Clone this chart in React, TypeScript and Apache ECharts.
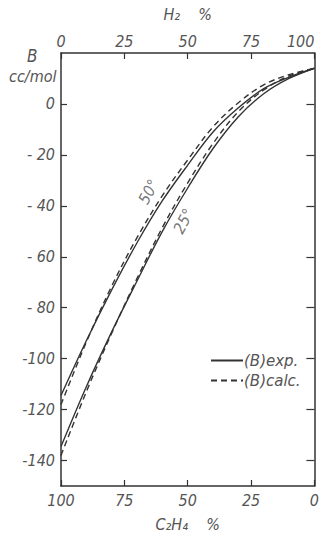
import React, { useEffect, useRef } from "react";
import * as echarts from "echarts";

// H2 mole percent (top axis); C2H4 % = 100 - H2 %
const h2Percent = [0, 10, 20, 30, 40, 50, 60, 70, 80, 90, 100];
// Second virial coefficient B (cc/mol)
const exp50 = [-114.5, -93, -73, -54.5, -38, -24, -11, -1.5, 6, 10.5, 14];
const calc50 = [-118, -93.5, -71.5, -52.5, -36, -22, -9, 0.5, 7.5, 11.5, 14];
const exp25 = [-134.5, -111, -89.5, -69.5, -50, -33, -17.5, -5, 4, 10, 14];
const calc25 = [-138, -113, -90, -68.5, -48.5, -31, -15.5, -3, 5.5, 11, 14];

const xTicks = [0, 25, 50, 75, 100];
const yTicks = [0, -20, -40, -60, -80, -100, -120, -140];
const legendNames = ["(B)exp.", "(B)calc."];

const FONT = "'DejaVu Sans Condensed', 'DejaVu Sans', sans-serif";
const INK = "#333";
const TXT = "#555";

function pairs(ys: number[]) {
  return h2Percent.map((x, i) => [x, ys[i]]);
}

export default function App() {
  const ref = useRef<HTMLDivElement>(null);
  useEffect(() => {
    if (!ref.current) return;
    const chart = echarts.init(ref.current, null, { renderer: "svg" });
    const txt = { color: TXT, fontFamily: FONT, fontStyle: "italic" as const, fontSize: 16 };
    const yFmt = (v: number) => (v === 0 ? "0" : v > -100 ? "- " + Math.abs(v) : "-" + Math.abs(v));
    const lineSeries = (name: string, ys: number[], dashed: boolean) => ({
      type: "line",
      name,
      xAxisIndex: 0,
      yAxisIndex: 0,
      data: pairs(ys),
      symbol: "none",
      smooth: 0.35,
      lineStyle: { color: INK, width: 1.4, type: dashed ? [6, 4] : "solid" },
      itemStyle: { color: INK },
      silent: true,
    });
    const xAxisBase = {
      type: "value",
      min: 0,
      max: 100,
      interval: xTicks[1] - xTicks[0],
      nameLocation: "middle",
      nameTextStyle: { ...txt, fontSize: 16 },
      axisLine: { show: true, onZero: false, lineStyle: { color: INK, width: 1.5 } },
      axisTick: { show: true, inside: true, length: 6, lineStyle: { color: INK, width: 1.2 } },
      splitLine: { show: false },
    };
    chart.setOption({
      animation: false,
      backgroundColor: "#fff",
      grid: { left: 61, right: 6, top: 53, bottom: 51, containLabel: false },
      legend: {
        data: legendNames,
        orient: "vertical",
        left: 205,
        top: 348,
        itemWidth: 32,
        itemHeight: 10,
        itemGap: 5,
        itemStyle: { color: "rgba(0,0,0,0)", borderColor: "rgba(0,0,0,0)", opacity: 0 },
        textStyle: { ...txt, fontFamily: "'DejaVu Sans', sans-serif", fontSize: 15, padding: [0, 0, 0, -4] },
        selectedMode: false,
      },
      xAxis: [
        {
          ...xAxisBase,
          position: "top",
          name: "H₂    %",
          nameGap: 31,
          axisLabel: { ...txt, margin: 4, alignMaxLabel: "right" },
        },
        {
          ...xAxisBase,
          position: "bottom",
          inverse: true,
          name: "C₂H₄    %",
          nameGap: 30,
          axisLabel: { ...txt, margin: 6 },
        },
      ],
      yAxis: [
        {
          type: "value",
          position: "left",
          min: -150,
          max: 20,
          interval: 10,
          axisLine: { show: true, onZero: false, lineStyle: { color: INK, width: 1.5 } },
          axisTick: { show: true, inside: true, length: 6, customValues: yTicks, lineStyle: { color: INK, width: 1.2 } },
          axisLabel: { ...txt, margin: 6, customValues: yTicks, formatter: yFmt },
          splitLine: { show: false },
        },
        {
          type: "value",
          position: "right",
          min: -150,
          max: 20,
          interval: 10,
          axisLine: { show: true, onZero: false, lineStyle: { color: INK, width: 1.5 } },
          axisTick: { show: true, inside: true, length: 8, customValues: yTicks, lineStyle: { color: INK, width: 1.2 } },
          axisLabel: { show: false },
          splitLine: { show: false },
        },
      ],
      graphic: [
        { type: "text", left: 27, top: 47, style: { text: "B", fill: TXT, font: "italic 17px " + FONT } },
        { type: "text", left: 9, top: 68, style: { text: "cc/mol", fill: TXT, font: "italic 16px " + FONT } },
      ],
      series: [
        lineSeries(legendNames[0], exp50, false),
        lineSeries(legendNames[1], calc50, true),
        lineSeries(legendNames[0], exp25, false),
        lineSeries(legendNames[1], calc25, true),
        {
          type: "scatter",
          name: "curve-labels",
          xAxisIndex: 0,
          yAxisIndex: 0,
          symbolSize: 0,
          silent: true,
          data: [
            {
              value: [h2Percent[4], calc50[4]],
              label: { show: true, formatter: "50°", rotate: 62, position: "inside", offset: [-3, -14], ...txt },
            },
            {
              value: [h2Percent[4], exp25[4]],
              label: { show: true, formatter: "25°", rotate: 62, position: "inside", offset: [19, 14], ...txt },
            },
          ],
        },
      ],
    });
    return () => chart.dispose();
  }, []);
  return (
    <div
      ref={ref}
      style={{ position: "fixed", left: 0, top: 0, width: 322, height: 537, background: "#fff" }}
    />
  );
}
